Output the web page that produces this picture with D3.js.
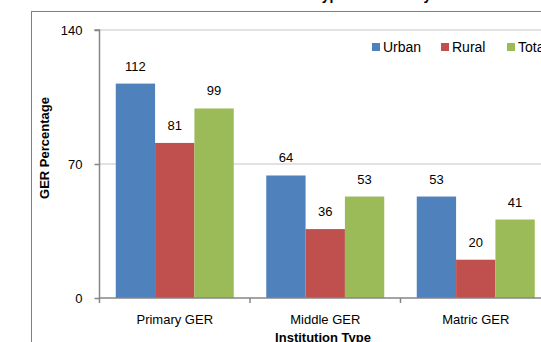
<!DOCTYPE html>
<html>
<head>
<meta charset="utf-8">
<script src="https://cdn.jsdelivr.net/npm/d3@7"></script>
<style>
  body { margin: 0; background: #fff; overflow: hidden; }
  svg { display: block; font-family: "Liberation Sans", Arial, sans-serif; }
</style>
</head>
<body>
<div id="wrapper"></div>
<script>
// data
const categories = ["Primary GER", "Middle GER", "Matric GER"]
const seriesNames = ["Urban", "Rural", "Total"]
const urban = [112, 64, 53]
const rural = [81, 36, 20]
const total = [99, 53, 41]
const yTicks = [0, 70, 140]
const colors = ["#4F81BD", "#C0504D", "#9BBB59"]

const seriesValues = [urban, rural, total]
const table = categories.map((c, i) => ({
  category: c,
  values: seriesNames.map((s, j) => ({ series: s, value: seriesValues[j][i] }))
}))

// dimensions
const width = 541
const height = 342
const plot = { left: 99.5, right: 551, top: 30, bottom: 298 }

const svg = d3.select("#wrapper")
  .append("svg")
  .attr("width", width)
  .attr("height", height)

// outer chart frame (cropped)
svg.append("rect")
  .attr("x", 31.5)
  .attr("y", 11.5)
  .attr("width", 600)
  .attr("height", 400)
  .attr("fill", "none")
  .attr("stroke", "#7f7f7f")
  .attr("stroke-width", 1)

// title, mostly cut off above the frame
svg.append("text")
  .attr("x", 337)
  .attr("y", 0)
  .attr("text-anchor", "middle")
  .attr("font-weight", "bold")
  .attr("font-size", 14)
  .text("Institution Type and Locality")

// scales
const xScale = d3.scaleBand()
  .domain(categories)
  .range([plot.left, plot.right])
  .paddingInner(0.216)
  .paddingOuter(0.108)

const xSub = d3.scaleBand()
  .domain(seriesNames)
  .range([0, xScale.bandwidth()])

const yScale = d3.scaleLinear()
  .domain([0, 140])
  .range([plot.bottom, plot.top])

// gridlines
svg.append("g")
  .selectAll("line")
  .data(yTicks.filter(d => d > 0))
  .join("line")
  .attr("x1", plot.left)
  .attr("x2", plot.right)
  .attr("y1", d => yScale(d))
  .attr("y2", d => yScale(d))
  .attr("stroke", "#d9d9d9")
  .attr("stroke-width", 1.5)

// bars
const groups = svg.append("g")
  .selectAll("g")
  .data(table)
  .join("g")
  .attr("transform", d => `translate(${xScale(d.category)},0)`)

groups.selectAll("rect")
  .data(d => d.values)
  .join("rect")
  .attr("x", d => xSub(d.series))
  .attr("y", d => yScale(d.value))
  .attr("width", xSub.bandwidth())
  .attr("height", d => yScale(0) - yScale(d.value))
  .attr("fill", (d, i) => colors[i])

groups.selectAll("text")
  .data(d => d.values)
  .join("text")
  .attr("x", d => xSub(d.series) + xSub.bandwidth() / 2)
  .attr("y", d => yScale(d.value) - 13)
  .attr("text-anchor", "middle")
  .attr("font-size", 13)
  .attr("fill", "#000")
  .text(d => d.value)

// y axis
const yAxisGen = d3.axisLeft(yScale)
  .tickValues(yTicks)
  .tickSize(5)
  .tickPadding(12)
const axisY = svg.append("g")
  .attr("transform", `translate(${plot.left},0)`)
  .call(yAxisGen)
axisY.select(".domain")
  .attr("stroke", "#868686")
  .attr("stroke-width", 1.5)
  .attr("d", `M-5,${plot.top}H0V${plot.bottom}`)
axisY.selectAll(".tick line").attr("stroke", "#868686").attr("stroke-width", 1.5)
axisY.selectAll(".tick text")
  .attr("font-size", 13)
  .attr("font-family", "Liberation Sans, Arial, sans-serif")
  .attr("fill", "#000")

// x axis
const xAxisGen = d3.axisBottom(xScale).tickSize(0).tickPadding(17)
const axisX = svg.append("g")
  .attr("transform", `translate(0,${plot.bottom})`)
  .call(xAxisGen)
axisX.select(".domain")
  .attr("stroke", "#868686")
  .attr("stroke-width", 1.5)
  .attr("d", `M${plot.left},0H${plot.right}`)
axisX.selectAll(".tick text")
  .attr("font-size", 13)
  .attr("font-family", "Liberation Sans, Arial, sans-serif")
  .attr("fill", "#000")

// category boundary ticks
const step = xScale.step()
const boundaries = categories.map(c => xScale(c) - xScale.paddingInner() * step / 2)
boundaries.push(plot.right)
axisX.append("g")
  .selectAll("line")
  .data(boundaries)
  .join("line")
  .attr("x1", d => d)
  .attr("x2", d => d)
  .attr("y1", 0)
  .attr("y2", 5)
  .attr("stroke", "#868686")
  .attr("stroke-width", 1.5)

// axis titles
svg.append("text")
  .attr("transform", "translate(49,148) rotate(-90)")
  .attr("text-anchor", "middle")
  .attr("font-weight", "bold")
  .attr("font-size", 13)
  .text("GER Percentage")

svg.append("text")
  .attr("x", 323)
  .attr("y", 342)
  .attr("text-anchor", "middle")
  .attr("font-weight", "bold")
  .attr("font-size", 13)
  .text("Institution Type")

// legend
const legendX = [372, 441, 507]
const legend = svg.append("g")
  .selectAll("g")
  .data(seriesNames)
  .join("g")
  .attr("transform", (d, i) => `translate(${legendX[i]},43)`)
legend.append("rect")
  .attr("width", 8)
  .attr("height", 8)
  .attr("fill", (d, i) => colors[i])
legend.append("text")
  .attr("x", 11)
  .attr("y", 9)
  .attr("font-size", 14)
  .text(d => d)
</script>
</body>
</html>
